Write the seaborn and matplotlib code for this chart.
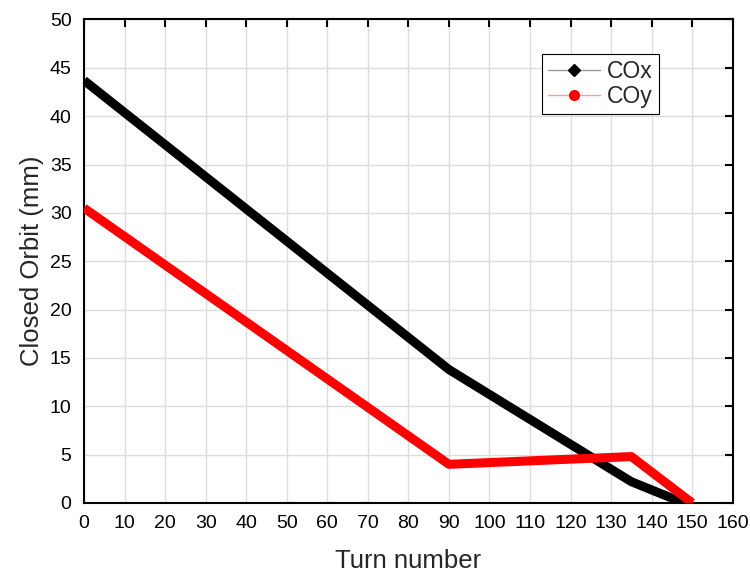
import matplotlib
matplotlib.use("Agg")
import matplotlib.pyplot as plt
from matplotlib.lines import Line2D
import seaborn as sns
import pandas as pd

# Closed-orbit amplitude versus turn number (breakpoints of each ramp)
turns_x = [0, 90, 135, 140, 145, 148]
cox_mm = [43.7, 13.8, 2.2, 1.35, 0.5, 0.0]

turns_y = [0, 90, 135, 150]
coy_mm = [30.5, 4.0, 4.8, 0.0]

x_ticks = list(range(0, 161, 10))
y_ticks = list(range(0, 51, 5))

df = pd.concat([
    pd.DataFrame({"turn": turns_x, "orbit": cox_mm, "series": "COx"}),
    pd.DataFrame({"turn": turns_y, "orbit": coy_mm, "series": "COy"}),
])

sns.set_style("white")
plt.rcParams["font.family"] = ["Liberation Sans", "DejaVu Sans"]

fig = plt.figure(figsize=(7.5, 5.73), dpi=100)
ax = fig.add_axes([0.112, 0.1222, 0.865, 0.8438])

sns.lineplot(data=df, x="turn", y="orbit", hue="series",
             palette={"COx": "black", "COy": "red"},
             estimator=None, sort=False, linewidth=6.5,
             solid_capstyle="butt", legend=False, ax=ax, zorder=3)

ax.set_xlim(0, 160)
ax.set_ylim(0, 50)
ax.set_xticks(x_ticks)
ax.set_yticks(y_ticks)
ax.grid(True, color="#dcdcdc", linewidth=1)
ax.set_axisbelow(True)

for s in ax.spines.values():
    s.set_visible(True)
    s.set_color("black")
    s.set_linewidth(1.5)

ax.tick_params(direction="in", length=6, width=1.5, top=True, right=True,
               labelsize=14, colors="black")
ax.tick_params(axis="x", pad=9)
ax.tick_params(axis="y", pad=9)

ax.set_xlabel("Turn number", fontsize=18.5, labelpad=12)
ax.set_ylabel("Closed Orbit (mm)", fontsize=18.5, labelpad=4)

handles = [
    Line2D([], [], color="#9a9a9a", linewidth=1, marker="D", markersize=6,
           markerfacecolor="black", markeredgecolor="black"),
    Line2D([], [], color="#ff9a9a", linewidth=1, marker="o", markersize=7,
           markerfacecolor="red", markeredgecolor="red"),
]
leg = ax.legend(handles, ["COx", "COy"], loc="upper right",
                bbox_to_anchor=(0.886, 0.928), fontsize=16.5, frameon=True,
                fancybox=False, shadow=False, handlelength=2.3,
                borderpad=0.25, labelspacing=0.08, handletextpad=0.3,
                borderaxespad=0)
leg.get_frame().set_edgecolor("black")
leg.get_frame().set_linewidth(0.8)
leg.get_frame().set_alpha(1)

fig.savefig("out.png", dpi=100)
